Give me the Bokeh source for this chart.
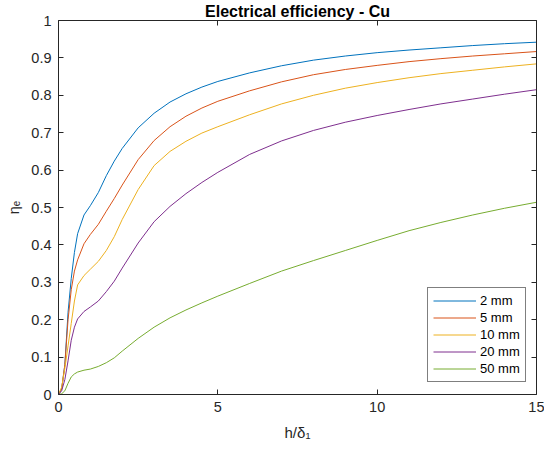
from bokeh.plotting import figure
from bokeh.models import Range1d, FixedTicker, LinearAxis, CustomJSTickFormatter
from bokeh.embed import file_html
from bokeh.resources import INLINE

# ---- data ----
h_over_delta = [0, 0.1, 0.2, 0.3, 0.4, 0.5, 0.6, 0.8, 1.0, 1.25, 1.5, 1.75, 2.0, 2.5, 3.0,
                3.5, 4.0, 4.5, 5.0, 6.0, 7.0, 8.0, 9.0, 10, 11, 12, 13, 14, 15]
eta_2mm = [0, 0.015, 0.08, 0.22, 0.31, 0.38, 0.43, 0.48, 0.505, 0.54, 0.585, 0.624, 0.658,
           0.713, 0.752, 0.782, 0.804, 0.822, 0.837, 0.86, 0.879, 0.894, 0.905, 0.914, 0.921,
           0.927, 0.933, 0.938, 0.942]
eta_5mm = [0, 0.015, 0.08, 0.2, 0.28, 0.33, 0.36, 0.403, 0.428, 0.455, 0.49, 0.524, 0.56,
           0.628, 0.679, 0.716, 0.744, 0.766, 0.784, 0.812, 0.836, 0.855, 0.869, 0.880, 0.890,
           0.898, 0.905, 0.911, 0.917]
eta_10mm = [0, 0.02, 0.07, 0.13, 0.19, 0.25, 0.293, 0.318, 0.335, 0.356, 0.385, 0.422, 0.468,
            0.548, 0.612, 0.65, 0.677, 0.699, 0.716, 0.748, 0.777, 0.800, 0.819, 0.834, 0.847,
            0.858, 0.867, 0.876, 0.884]
eta_20mm = [0, 0.01, 0.04, 0.09, 0.145, 0.18, 0.202, 0.222, 0.234, 0.25, 0.275, 0.303, 0.338,
            0.405, 0.462, 0.503, 0.537, 0.567, 0.594, 0.642, 0.678, 0.706, 0.728, 0.746, 0.762,
            0.777, 0.790, 0.803, 0.815]
eta_50mm = [0, 0.002, 0.01, 0.03, 0.047, 0.055, 0.06, 0.065, 0.068, 0.075, 0.085, 0.098, 0.116,
            0.15, 0.18, 0.205, 0.226, 0.245, 0.263, 0.297, 0.33, 0.358, 0.385, 0.412, 0.438,
            0.46, 0.48, 0.498, 0.514]
series_labels = ["2 mm", "5 mm", "10 mm", "20 mm", "50 mm"]
series_colors = ["#0072BD", "#D95319", "#EDB120", "#7E2F8E", "#77AC30"]
x_ticks = [0, 5, 10, 15]
y_ticks = [0, 0.1, 0.2, 0.3, 0.4, 0.5, 0.6, 0.7, 0.8, 0.9, 1.0]
title_text = "Electrical efficiency - Cu"
x_label = "h/δ₁"
y_label = "ηₑ"

FONT = "Liberation Sans"
AX = "#262626"

p = figure(width=544, height=451, output_backend="svg", toolbar_location=None,
           x_range=Range1d(0, 15), y_range=Range1d(0, 1),
           min_border_left=58, min_border_right=8, min_border_top=20, min_border_bottom=57,
           x_axis_type=None, y_axis_type=None)
p.background_fill_color = "white"
p.border_fill_color = "white"
p.outline_line_color = None
p.xgrid.grid_line_color = None
p.ygrid.grid_line_color = None

p.title.text = title_text
p.title.align = "center"
p.title.text_font = FONT
p.title.text_font_style = "bold"
p.title.text_font_size = "16px"
p.title.text_color = "black"
p.title.standoff = 1
p.title.offset = 0

fmt_y = CustomJSTickFormatter(code="return (Math.round(tick*10)/10).toString();")


def make_axis(ticker, show_labels, fmt=None, label=None, label_standoff=8, label_size="14.5px"):
    ax = LinearAxis(ticker=FixedTicker(ticks=ticker))
    if fmt is not None:
        ax.formatter = fmt
    ax.axis_line_color = AX
    ax.axis_line_width = 1
    ax.major_tick_line_color = AX
    ax.major_tick_in = 5
    ax.major_tick_out = 0
    ax.minor_tick_line_color = None
    ax.major_label_text_font = FONT
    if show_labels:
        ax.major_label_text_color = AX
        ax.major_label_text_font_size = "14.5px"
        ax.major_label_standoff = 7
    else:
        ax.major_label_text_color = None
        ax.major_label_text_font_size = "1px"
        ax.major_label_standoff = 0
    if label is not None:
        ax.axis_label = label
        ax.axis_label_text_font = FONT
        ax.axis_label_text_font_size = label_size
        ax.axis_label_text_font_style = "normal"
        ax.axis_label_text_color = AX
        ax.axis_label_standoff = label_standoff
    return ax


p.add_layout(make_axis(x_ticks, True, label=x_label, label_standoff=9, label_size="15px"), "below")
p.add_layout(make_axis(y_ticks, True, fmt_y, label=y_label, label_standoff=6, label_size="14.5px"), "left")
p.add_layout(make_axis(x_ticks, False), "above")
p.add_layout(make_axis(y_ticks, False), "right")

for ys, lab, col in zip([eta_2mm, eta_5mm, eta_10mm, eta_20mm, eta_50mm], series_labels, series_colors):
    p.line(h_over_delta, ys, line_color=col, line_width=1, legend_label=lab)

lg = p.legend[0]
lg.location = (369, 12)
lg.margin = 0
lg.padding = 5
lg.spacing = 2
lg.glyph_width = 43
lg.glyph_height = 15
lg.label_height = 15
lg.label_standoff = 4
lg.label_text_font = FONT
lg.label_text_font_size = "13px"
lg.label_text_color = "black"
lg.border_line_color = "black"
lg.border_line_width = 1
lg.background_fill_color = "white"
lg.background_fill_alpha = 1

open("out.html", "w").write(file_html(p, INLINE))
